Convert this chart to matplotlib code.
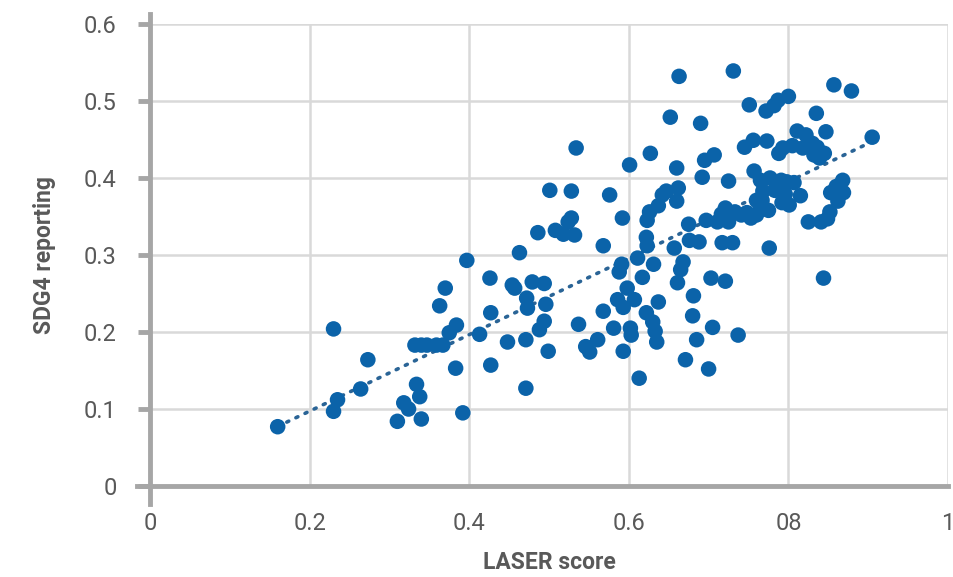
import numpy as np
import matplotlib
matplotlib.use("Agg")
import matplotlib.pyplot as plt

plt.rcParams['font.family'] = ['Roboto', 'DejaVu Sans']

# LASER score (x) and SDG4 reporting (y)
laser = [0.160, 0.230, 0.230, 0.235, 0.264, 0.273, 0.310, 0.318, 0.324, 0.334,
         0.338, 0.340, 0.332, 0.340, 0.347, 0.359, 0.367, 0.363, 0.370, 0.375,
         0.384, 0.383, 0.392, 0.397, 0.413, 0.426, 0.427, 0.427, 0.448, 0.454,
         0.457, 0.463, 0.471, 0.472, 0.473, 0.471, 0.479, 0.486, 0.488, 0.494,
         0.496, 0.494, 0.499, 0.501, 0.508, 0.518, 0.524, 0.528, 0.528, 0.532,
         0.534, 0.537, 0.546, 0.551, 0.561, 0.568, 0.568, 0.576, 0.581, 0.586,
         0.588, 0.591, 0.593, 0.592, 0.593, 0.598, 0.601, 0.603, 0.602, 0.607,
         0.613, 0.611, 0.617, 0.622, 0.622, 0.623, 0.623, 0.626, 0.627, 0.630,
         0.631, 0.633, 0.635, 0.637, 0.637, 0.642, 0.647, 0.652, 0.657, 0.660,
         0.660, 0.662, 0.663, 0.661, 0.665, 0.668, 0.671, 0.675, 0.676, 0.681,
         0.680, 0.685, 0.688, 0.690, 0.692, 0.695, 0.697, 0.700, 0.703, 0.705,
         0.707, 0.711, 0.716, 0.717, 0.721, 0.721, 0.725, 0.725, 0.730, 0.731,
         0.733, 0.737, 0.741, 0.745, 0.748, 0.751, 0.753, 0.756, 0.757, 0.760,
         0.760, 0.765, 0.765, 0.767, 0.768, 0.772, 0.773, 0.775, 0.776, 0.777,
         0.782, 0.783, 0.787, 0.788, 0.791, 0.792, 0.793, 0.796, 0.798, 0.800,
         0.801, 0.805, 0.807, 0.811, 0.815, 0.818, 0.822, 0.825, 0.830, 0.832,
         0.835, 0.836, 0.839, 0.841, 0.844, 0.845, 0.847, 0.849, 0.853, 0.857,
         0.860, 0.862, 0.868, 0.869, 0.879, 0.905, 0.852]
sdg4 = [0.077, 0.204, 0.097, 0.112, 0.126, 0.164, 0.084, 0.108, 0.100, 0.132,
        0.116, 0.087, 0.183, 0.183, 0.183, 0.183, 0.183, 0.234, 0.257, 0.199,
        0.209, 0.153, 0.095, 0.293, 0.197, 0.270, 0.225, 0.157, 0.187, 0.261,
        0.257, 0.303, 0.127, 0.244, 0.231, 0.190, 0.265, 0.329, 0.203, 0.263,
        0.236, 0.214, 0.175, 0.384, 0.332, 0.327, 0.343, 0.383, 0.348, 0.326,
        0.439, 0.210, 0.181, 0.174, 0.190, 0.312, 0.227, 0.378, 0.205, 0.242,
        0.278, 0.288, 0.232, 0.348, 0.175, 0.257, 0.417, 0.196, 0.205, 0.242,
        0.140, 0.296, 0.271, 0.323, 0.225, 0.345, 0.312, 0.356, 0.432, 0.213,
        0.288, 0.201, 0.187, 0.364, 0.239, 0.378, 0.383, 0.479, 0.309, 0.413,
        0.370, 0.387, 0.532, 0.264, 0.281, 0.291, 0.164, 0.340, 0.319, 0.247,
        0.221, 0.190, 0.317, 0.471, 0.401, 0.423, 0.345, 0.152, 0.270, 0.206,
        0.430, 0.343, 0.353, 0.316, 0.361, 0.266, 0.396, 0.343, 0.316, 0.539,
        0.356, 0.196, 0.352, 0.440, 0.355, 0.495, 0.348, 0.449, 0.409, 0.371,
        0.352, 0.362, 0.397, 0.371, 0.383, 0.487, 0.448, 0.358, 0.309, 0.400,
        0.494, 0.384, 0.501, 0.432, 0.397, 0.368, 0.439, 0.379, 0.395, 0.506,
        0.365, 0.442, 0.394, 0.461, 0.377, 0.439, 0.456, 0.343, 0.445, 0.430,
        0.484, 0.440, 0.426, 0.343, 0.270, 0.432, 0.460, 0.347, 0.381, 0.521,
        0.389, 0.370, 0.397, 0.381, 0.513, 0.453, 0.356]

xticks = [0, 0.2, 0.4, 0.6, 0.8, 1]
xlabels = ['0', '0.2', '0.4', '0.6', '08', '1']
yticks = [0, 0.1, 0.2, 0.3, 0.4, 0.5, 0.6]
ylabels = ['0', '0.1', '0.2', '0.3', '0.4', '0.5', '0.6']

blue = '#0b63a9'
axis_grey = '#a6a6a6'
text_grey = '#595959'

fig = plt.figure(figsize=(9.54, 5.77), dpi=100)
ax = fig.add_axes([150/954, 1 - 486/577, 798/954, 462/577])

x = np.array(laser)
y = np.array(sdg4)
ax.scatter(x, y, s=125, color=blue, edgecolors='none', zorder=3)

# linear trend line
b, a = np.polyfit(x, y, 1)
xx = np.linspace(x.min(), x.max(), 50)
ax.plot(xx, a + b*xx, ls=(0, (0.6, 2.2)), lw=2.6, color='#2a6496',
        dash_capstyle='round', zorder=2)

ax.set_xlim(0, 1)
ax.set_ylim(0, 0.6)
ax.set_xticks(xticks)
ax.set_xticklabels(xlabels)
ax.set_yticks(yticks)
ax.set_yticklabels(ylabels)

ax.grid(True, color='#d9d9d9', lw=1.8, zorder=0)
ax.set_axisbelow(True)

for side in ['top', 'right']:
    ax.spines[side].set_visible(False)
for side in ['left', 'bottom']:
    ax.spines[side].set_color(axis_grey)
    ax.spines[side].set_linewidth(3.5)
    ax.spines[side].set_zorder(4)
ax.spines['left'].set_bounds(-0.024, 0.613)
ax.spines['bottom'].set_bounds(-0.016, 1.0)

ax.tick_params(axis='y', length=9, width=3.5, color=axis_grey,
               labelsize=17, labelcolor=text_grey, pad=15)
ax.tick_params(axis='x', length=0, labelsize=17, labelcolor=text_grey, pad=19)

ax.set_xlabel('LASER score', fontsize=16.5, fontweight='bold', color=text_grey, labelpad=11)
ax.set_ylabel('SDG4 reporting', fontsize=16.5, fontweight='bold', color=text_grey, labelpad=20)

fig.savefig('out.png', dpi=100)
